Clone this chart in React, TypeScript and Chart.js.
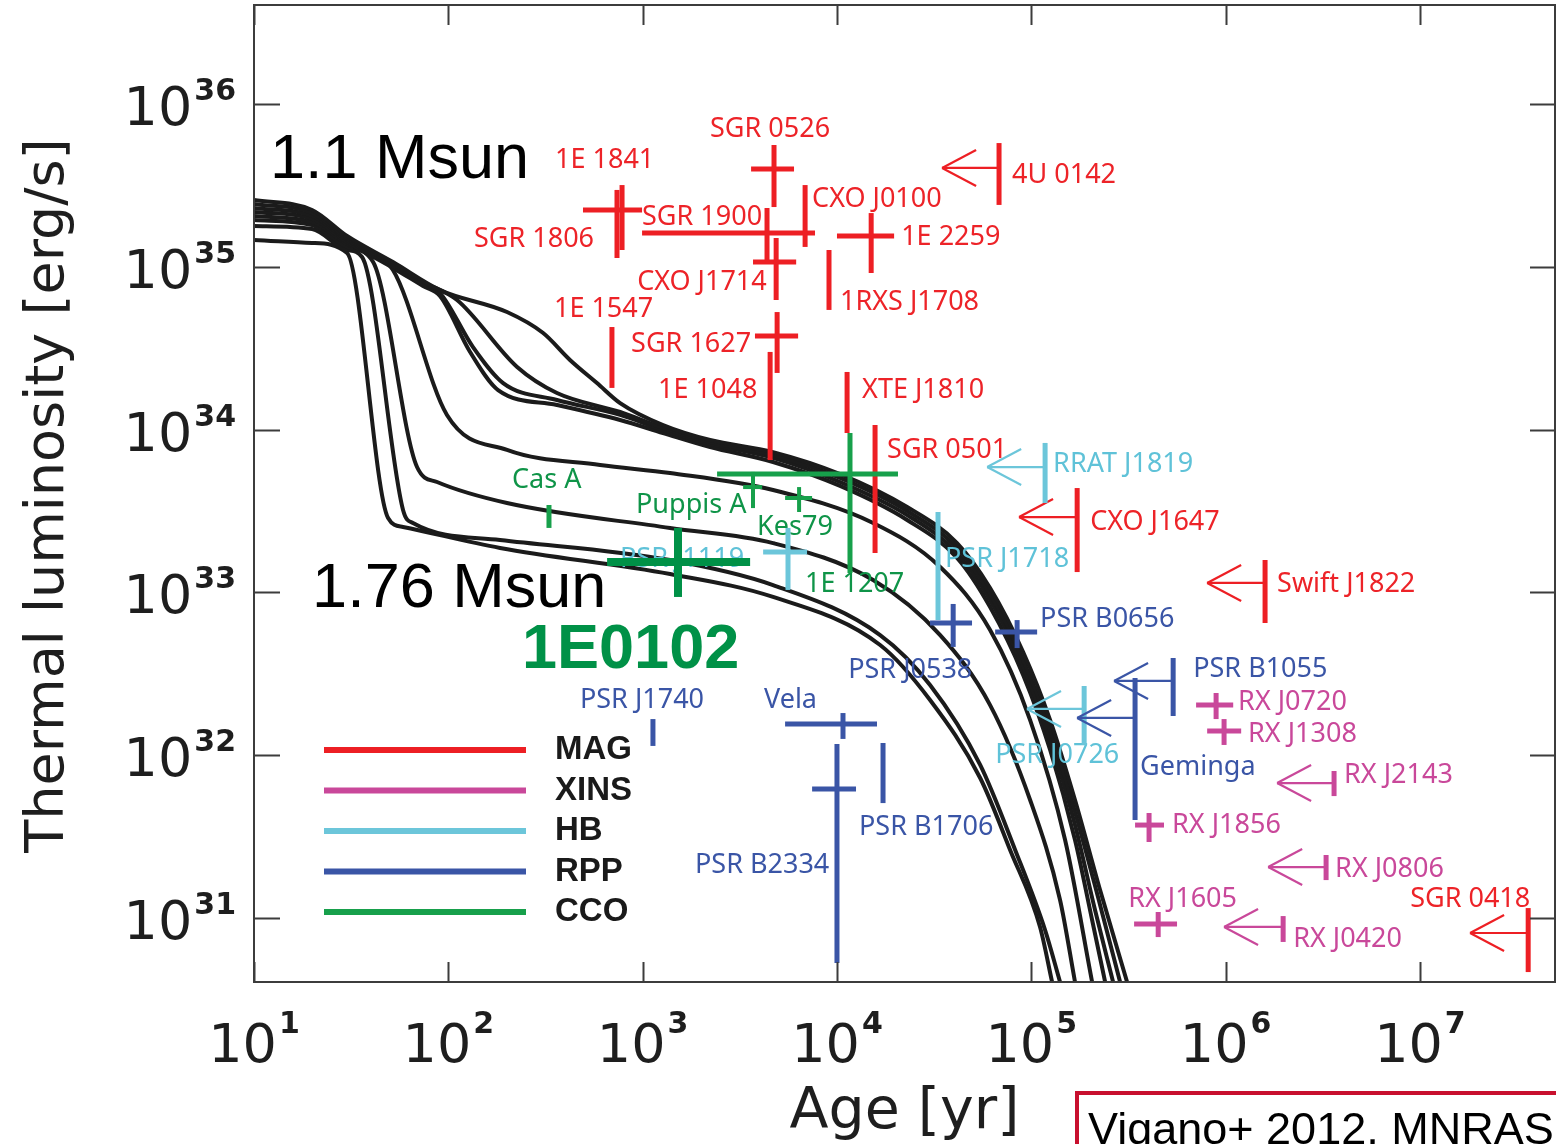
import React, { useEffect, useRef } from 'react';
import { Chart, registerables } from 'chart.js';

Chart.register(...registerables);

// ---------- DATA (log10 age [yr], log10 L [erg/s]) ----------
type Pt = [number, number];

const CURVE_1: Pt[] = [[1.0, 35.41], [1.299, 35.349], [1.479, 35.189], [1.715, 35.029], [1.957, 34.857], [2.302, 34.722], [2.488, 34.593], [2.626, 34.428], [2.765, 34.286], [2.884, 34.163], [3.105, 34.028], [3.347, 33.936], [3.671, 33.862], [4.016, 33.727], [4.361, 33.525], [4.618, 33.303], [4.788, 33.027], [4.958, 32.634], [5.097, 32.216], [5.225, 31.725], [5.354, 31.172], [5.493, 30.607]];
const CURVE_2: Pt[] = [[1.0, 35.386], [1.299, 35.33], [1.479, 35.177], [1.715, 35.017], [1.87, 34.907], [2.045, 34.796], [2.354, 34.385], [2.559, 34.225], [2.884, 34.108], [3.105, 34.01], [3.347, 33.924], [3.671, 33.844], [4.016, 33.703], [4.361, 33.5], [4.618, 33.273], [4.788, 32.99], [4.958, 32.585], [5.097, 32.155], [5.225, 31.651], [5.354, 31.08], [5.457, 30.607]];
const CURVE_3: Pt[] = [[1.0, 35.361], [1.299, 35.312], [1.479, 35.165], [1.715, 35.005], [1.87, 34.894], [1.957, 34.839], [2.127, 34.507], [2.282, 34.286], [2.559, 34.182], [2.884, 34.09], [3.105, 33.998], [3.347, 33.912], [3.671, 33.826], [4.016, 33.678], [4.361, 33.475], [4.618, 33.242], [4.788, 32.953], [4.958, 32.542], [5.097, 32.093], [5.225, 31.571], [5.328, 31.049], [5.421, 30.607]];
const CURVE_4: Pt[] = [[1.0, 35.337], [1.299, 35.294], [1.479, 35.152], [1.715, 34.993], [1.87, 34.882], [1.957, 34.821], [2.112, 34.477], [2.256, 34.243], [2.559, 34.151], [2.884, 34.059], [3.105, 33.979], [3.347, 33.893], [3.671, 33.801], [4.016, 33.654], [4.361, 33.445], [4.618, 33.212], [4.788, 32.91], [4.958, 32.493], [5.097, 32.032], [5.225, 31.479], [5.313, 30.988], [5.38, 30.607]];
const CURVE_5: Pt[] = [[1.0, 35.312], [1.299, 35.275], [1.479, 35.14], [1.715, 34.98], [1.993, 34.09], [2.302, 33.875], [2.781, 33.783], [3.141, 33.733], [3.671, 33.629], [4.186, 33.426], [4.531, 33.156], [4.788, 32.769], [4.994, 32.216], [5.174, 31.479], [5.313, 30.607]];
const CURVE_6: Pt[] = [[1.0, 35.287], [1.299, 35.257], [1.479, 35.122], [1.613, 35.029], [1.839, 33.77], [1.942, 33.678], [2.302, 33.549], [3.141, 33.396], [3.671, 33.303], [4.186, 33.076], [4.531, 32.738], [4.788, 32.308], [4.994, 31.725], [5.148, 31.111], [5.225, 30.607]];
const CURVE_7: Pt[] = [[1.0, 35.251], [1.299, 35.232], [1.479, 35.103], [1.556, 35.06], [1.767, 33.506], [1.818, 33.426], [2.266, 33.322], [3.141, 33.199], [3.671, 33.045], [4.222, 32.738], [4.479, 32.431], [4.737, 31.94], [4.917, 31.418], [5.071, 30.926], [5.148, 30.607]];
const CURVE_8: Pt[] = [[1.0, 35.165], [1.299, 35.146], [1.479, 35.085], [1.69, 33.457], [1.767, 33.402], [2.266, 33.273], [3.141, 33.113], [3.671, 32.972], [4.222, 32.677], [4.479, 32.339], [4.737, 31.86], [4.891, 31.418], [5.045, 30.945], [5.107, 30.607]];
const COOLING_CURVES = [CURVE_1, CURVE_2, CURVE_3, CURVE_4, CURVE_5, CURVE_6, CURVE_7, CURVE_8];

// [name, logAge, logAgeLo (or arrow tip), logAgeHi, logL, logLLo, logLHi, ageIsUpperLimit]
type Src = [string, number, number | null, number | null, number, number, number, boolean];

const MAG_SOURCES: Src[] = [
  ['SGR 0526', 3.676, 3.558, 3.779, 35.601, 35.367, 35.748, false],
  ['1E 1841', 2.894, 2.693, 2.997, 35.349, 35.103, 35.502, false],
  ['SGR 1806', 2.868, null, null, 35.263, 35.054, 35.472, false],
  ['SGR 1900', 3.64, 2.997, 3.887, 35.208, 35.023, 35.361, false],
  ['CXO J0100', 3.836, null, null, 35.312, 35.122, 35.502, false],
  ['CXO J1714', 3.687, 3.568, 3.79, 35.029, 34.796, 35.177, false],
  ['1E 2259', 4.176, 4.0, 4.294, 35.189, 34.962, 35.33, false],
  ['1RXS J1708', 3.959, null, null, 34.919, 34.735, 35.103, false],
  ['4U 0142', 4.834, 4.541, null, 35.607, 35.38, 35.76, true],
  ['1E 1547', 2.842, null, null, 34.446, 34.256, 34.63, false],
  ['SGR 1627', 3.692, 3.578, 3.8, 34.575, 34.348, 34.722, false],
  ['1E 1048', 3.656, null, null, 34.145, 33.813, 34.477, false],
  ['XTE J1810', 4.052, null, null, 34.167, 33.979, 34.354, false],
  ['SGR 0501', 4.196, null, null, 33.635, 33.242, 34.028, false],
  ['CXO J1647', 5.236, 4.937, null, 33.463, 33.125, 33.641, true],
  ['Swift J1822', 6.203, 5.905, null, 33.058, 32.812, 33.199, true],
  ['SGR 0418', 7.557, 7.258, null, 30.908, 30.668, 31.061, true],
];
const XINS_SOURCES: Src[] = [
  ['RX J0720', 5.951, 5.848, 6.039, 32.308, 32.222, 32.382, false],
  ['RX J1308', 5.992, 5.905, 6.08, 32.149, 32.063, 32.222, false],
  ['RX J2143', 6.558, 6.265, null, 31.829, 31.749, 31.903, true],
  ['RX J1856', 5.606, 5.534, 5.683, 31.571, 31.467, 31.645, false],
  ['RX J0806', 6.517, 6.219, null, 31.313, 31.233, 31.387, true],
  ['RX J1605', 5.653, 5.529, 5.75, 30.963, 30.883, 31.037, false],
  ['RX J0420', 6.296, 5.992, null, 30.945, 30.853, 31.012, true],
];
const HB_SOURCES: Src[] = [
  ['RRAT J1819', 5.071, 4.773, null, 33.77, 33.549, 33.918, true],
  ['PSR J1718', 4.52, null, null, 33.162, 32.83, 33.494, false],
  ['PSR J1119', 3.748, 3.62, 3.846, 33.248, 33.015, 33.396, false],
  ['PSR J0726', 5.272, 4.978, null, 32.284, 32.063, 32.425, true],
];
const RPP_SOURCES: Src[] = [
  ['PSR J0538', 4.598, 4.479, 4.695, 32.812, 32.665, 32.929, false],
  ['PSR B0656', 4.927, 4.814, 5.03, 32.757, 32.658, 32.83, false],
  ['PSR B1055', 5.73, 5.426, null, 32.456, 32.241, 32.597, true],
  ['Geminga', 5.534, 5.236, null, 32.229, 31.602, 32.474, true],
  ['PSR J1740', 3.053, null, null, 32.143, 32.057, 32.222, false],
  ['Vela', 4.031, 3.733, 4.206, 32.192, 32.1, 32.259, false],
  ['PSR B2334', 4.0, 3.872, 4.098, 31.792, 30.724, 32.069, false],
  ['PSR B1706', 4.237, null, null, 31.891, 31.706, 32.075, false],
];
const CCO_SOURCES: Src[] = [
  ['Cas A', 2.518, null, null, 33.469, 33.396, 33.537, false],
  ['Puppis A', 3.568, 3.517, 3.615, 33.647, 33.518, 33.74, false],
  ['Kes79', 3.805, 3.733, 3.872, 33.58, 33.494, 33.647, false],
  ['1E 1207', 4.067, 3.383, 4.314, 33.727, 33.119, 33.979, false],
  ['1E0102', 3.182, 2.817, 3.553, 33.187, 32.972, 33.396, false],
];

const CLASS_NAMES = ['MAG', 'XINS', 'HB', 'RPP', 'CCO'];
const CLASS_SOURCES = [MAG_SOURCES, XINS_SOURCES, HB_SOURCES, RPP_SOURCES, CCO_SOURCES];

const X_DECADES = [1, 2, 3, 4, 5, 6, 7];
const Y_DECADES = [31, 32, 33, 34, 35, 36];
const X_LOG_RANGE = [1.0, 7.695];
const Y_LOG_RANGE = [30.607, 36.608];

const X_TITLE = 'Age [yr]';
const Y_TITLE = 'Thermal luminosity [erg/s]';
const MASS_NOTES: [string, number, number][] = [['1.1 Msun', 1.082, 35.545], ['1.76 Msun', 1.299, 32.91]];
const CREDIT = 'Vigano+ 2012, MNRAS';

// ---------- STYLE ----------
const CLASS_COLORS = ['#ed1f24', '#c9489a', '#6cc6da', '#3a55a6', '#17a04b'];
const LABEL_COLORS = ['#ed2328', '#c9489a', '#5fc2d8', '#3a55a6', '#0f9448'];
const LABEL_OFFSETS: Record<string, [number, number]> = {
  'SGR 0526': [-64, -32], '1E 1841': [-67, -42], 'SGR 1806': [-143, 23], 'SGR 1900': [-125, -8],
  'CXO J0100': [7, -9], 'CXO J1714': [-139, 28], '1E 2259': [30, 9], '1RXS J1708': [11, 30],
  '4U 0142': [13, 15], '1E 1547': [-58, -40], 'SGR 1627': [-146, 16], '1E 1048': [-112, -8],
  'XTE J1810': [15, -4], 'SGR 0501': [12, -31], 'CXO J1647': [13, 13], 'Swift J1822': [12, 9],
  'SGR 0418': [-118, -26],
  'RX J0720': [22, 5], 'RX J1308': [24, 11], 'RX J2143': [10, 0], 'RX J1856': [23, 8],
  'RX J0806': [9, 10], 'RX J1605': [-30, -17], 'RX J0420': [10, 20],
  'RRAT J1819': [8, 5], 'PSR J1718': [7, 1], 'PSR J1119': [-168, 15], 'PSR J0726': [-89, 54],
  'PSR J0538': [-105, 55], 'PSR B0656': [23, -5], 'PSR B1055': [20, -4], 'Geminga': [5, 57],
  'PSR J1740': [-73, -24], 'Vela': [-79, -16], 'PSR B2334': [-142, 84], 'PSR B1706': [-24, 62],
  'Cas A': [-37, -28], 'Puppis A': [-117, 26], 'Kes79': [-42, 37], '1E 1207': [-45, 118], '1E0102': [-156, 106],
};
const BAR_WIDTHS: Record<string, number> = { 'Puppis A': 4, 'Kes79': 4, '1E0102': 8 };
const HIGHLIGHT = '1E0102';
const FRAME_COLOR = '#3c3c3c';
const TEXT_COLOR = '#1e1e1e';

const overlayPlugin = {
  id: 'overlay',
  afterDatasetsDraw(chart: any) {
    const { ctx, chartArea: a, scales } = chart;
    const X = (l: number) => scales.x.getPixelForValue(Math.pow(10, l));
    const Y = (l: number) => scales.y.getPixelForValue(Math.pow(10, l));
    ctx.save();
    // source labels
    ctx.textAlign = 'left';
    ctx.textBaseline = 'alphabetic';
    CLASS_SOURCES.forEach((list, ci) => {
      list.forEach((s) => {
        const [name, age, , , lum] = s;
        const off = LABEL_OFFSETS[name] || [10, 0];
        if (name === HIGHLIGHT) {
          ctx.font = 'bold 63px "Liberation Sans", Arial, sans-serif';
          ctx.fillStyle = '#009147';
        } else {
          ctx.font = '27px "Noto Sans", sans-serif';
          ctx.fillStyle = LABEL_COLORS[ci];
        }
        ctx.fillText(name, X(age) + off[0], Y(lum) + off[1]);
      });
    });
    // error bars / limits
    ctx.beginPath();
    ctx.rect(a.left, a.top, a.right - a.left, a.bottom - a.top);
    ctx.clip();
    const seg = (x1: number, y1: number, x2: number, y2: number) => {
      ctx.beginPath();
      ctx.moveTo(x1, y1);
      ctx.lineTo(x2, y2);
      ctx.stroke();
    };
    ctx.lineCap = 'butt';
    CLASS_SOURCES.forEach((list, ci) => {
      ctx.strokeStyle = CLASS_COLORS[ci];
      list.forEach((s) => {
        const [name, age, lo, hi, lum, llo, lhi, upper] = s;
        const x = X(age);
        const y = Y(lum);
        if (upper && lo !== null) {
          const tip = X(lo);
          ctx.lineWidth = 2.2;
          seg(tip, y, x, y);
          seg(tip, y, tip + 34, y - 18);
          seg(tip, y, tip + 34, y + 18);
          ctx.lineWidth = 5;
          seg(x, Y(llo), x, Y(lhi));
        } else {
          ctx.lineWidth = BAR_WIDTHS[name] ?? 5;
          if (name === HIGHLIGHT) ctx.strokeStyle = '#009147';
          if (lo !== null && hi !== null) seg(X(lo), y, X(hi), y);
          seg(x, Y(llo), x, Y(lhi));
          ctx.strokeStyle = CLASS_COLORS[ci];
        }
      });
    });
    ctx.restore();
  },
  afterDraw(chart: any) {
    const { ctx, chartArea: a, scales } = chart;
    const X = (l: number) => scales.x.getPixelForValue(Math.pow(10, l));
    const Y = (l: number) => scales.y.getPixelForValue(Math.pow(10, l));
    ctx.save();
    // frame
    ctx.strokeStyle = FRAME_COLOR;
    ctx.lineWidth = 2;
    ctx.strokeRect(a.left, a.top, a.right - a.left, a.bottom - a.top);
    ctx.beginPath();
    X_DECADES.forEach((d) => {
      const x = Math.round(X(d)) + 0.5;
      ctx.moveTo(x, a.bottom); ctx.lineTo(x, a.bottom - 20);
      ctx.moveTo(x, a.top); ctx.lineTo(x, a.top + 20);
    });
    Y_DECADES.forEach((d) => {
      const y = Math.round(Y(d)) + 0.5;
      ctx.moveTo(a.left, y); ctx.lineTo(a.left + 26, y);
      ctx.moveTo(a.right, y); ctx.lineTo(a.right - 25, y);
    });
    ctx.stroke();
    // tick labels
    ctx.fillStyle = TEXT_COLOR;
    ctx.textAlign = 'left';
    ctx.textBaseline = 'alphabetic';
    const big = '54px "DejaVu Sans", sans-serif';
    const small = 'bold 30px "DejaVu Sans", sans-serif';
    X_DECADES.forEach((d) => {
      ctx.font = big; const w1 = ctx.measureText('10').width;
      ctx.font = small; const w2 = ctx.measureText(String(d)).width;
      const start = X(d) - (w1 + 2 + w2) / 2;
      ctx.font = big; ctx.fillText('10', start, a.bottom + 80);
      ctx.font = small; ctx.fillText(String(d), start + w1 + 2, a.bottom + 51);
    });
    Y_DECADES.forEach((d) => {
      const y = Y(d);
      ctx.font = big; const w1 = ctx.measureText('10').width;
      ctx.font = small; const w2 = ctx.measureText(String(d)).width;
      const start = a.left - 18 - (w1 + 2 + w2);
      ctx.font = big; ctx.fillText('10', start, y + 21);
      ctx.font = small; ctx.fillText(String(d), start + w1 + 2, y - 4);
    });
    // axis titles
    ctx.font = '57px "DejaVu Sans", sans-serif';
    ctx.textAlign = 'center';
    ctx.fillText(X_TITLE, (a.left + a.right) / 2, a.bottom + 146);
    ctx.save();
    ctx.translate(63, (a.top + a.bottom) / 2 + 2);
    ctx.rotate(-Math.PI / 2);
    ctx.font = '54px "DejaVu Sans", sans-serif';
    ctx.fillText(Y_TITLE, 0, 0);
    ctx.restore();
    // mass notes
    ctx.textAlign = 'left';
    ctx.font = '63px "Liberation Sans", Arial, sans-serif';
    ctx.fillStyle = '#000';
    MASS_NOTES.forEach(([t, lx, ly]) => ctx.fillText(t, X(lx), Y(ly)));
    // legend
    CLASS_NAMES.forEach((n, i) => {
      const y = a.top + 745 + i * 40.5;
      ctx.strokeStyle = CLASS_COLORS[i];
      ctx.lineWidth = 6;
      ctx.beginPath();
      ctx.moveTo(a.left + 70, y); ctx.lineTo(a.left + 272, y);
      ctx.stroke();
      ctx.fillStyle = '#1a1a1a';
      ctx.font = 'bold 33px "Liberation Sans", Arial, sans-serif';
      ctx.textBaseline = 'middle';
      ctx.fillText(n, a.left + 301, y);
    });
    // credit box
    ctx.textBaseline = 'alphabetic';
    ctx.strokeStyle = '#c8102e';
    ctx.lineWidth = 4;
    ctx.strokeRect(1077, 1093, 600, 200);
    ctx.fillStyle = '#000';
    ctx.font = '45px "Liberation Sans", Arial, sans-serif';
    ctx.fillText(CREDIT, 1088, 1144);
    ctx.restore();
  },
};

export default function App() {
  const ref = useRef<HTMLCanvasElement>(null);
  useEffect(() => {
    if (!ref.current) return;
    const chart = new Chart(ref.current, {
      type: 'line',
      data: {
        datasets: COOLING_CURVES.map((c) => ({
          data: c.map(([la, ll]) => ({ x: Math.pow(10, la), y: Math.pow(10, ll) })),
          borderColor: '#1b1b1b',
          borderWidth: 4,
          pointRadius: 0,
          fill: false,
          cubicInterpolationMode: 'monotone' as const,
        })),
      },
      options: {
        animation: false,
        responsive: false,
        devicePixelRatio: 1,
        events: [],
        layout: { padding: { left: 254, top: 5, right: 1, bottom: 162 } },
        plugins: { legend: { display: false }, tooltip: { enabled: false } },
        scales: {
          x: { type: 'logarithmic', display: false, min: Math.pow(10, X_LOG_RANGE[0]), max: Math.pow(10, X_LOG_RANGE[1]) },
          y: { type: 'logarithmic', display: false, min: Math.pow(10, Y_LOG_RANGE[0]), max: Math.pow(10, Y_LOG_RANGE[1]) },
        },
      },
      plugins: [overlayPlugin],
    } as any);
    return () => chart.destroy();
  }, []);
  return (
    <div style={{ position: 'absolute', left: 0, top: 0, width: 1556, height: 1144, background: '#fff', overflow: 'hidden' }}>
      <canvas ref={ref} width={1556} height={1144} style={{ display: 'block' }} />
    </div>
  );
}
